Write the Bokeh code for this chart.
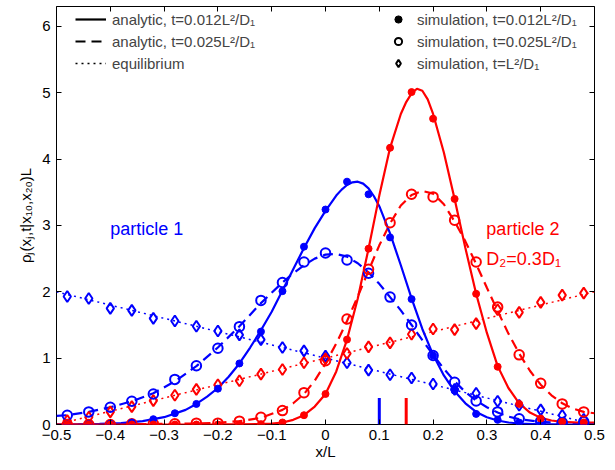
from bokeh.plotting import figure
from bokeh.models import Legend, LegendItem, LinearAxis, FixedTicker
from bokeh.core.properties import value
from bokeh.embed import file_html
from bokeh.resources import INLINE

BLUE = "#0000ff"
RED = "#ff0000"
FONT = "Liberation Sans"
NAN = float("nan")

# ---------------- data ----------------
x_ticks = [-0.5, -0.4, -0.3, -0.2, -0.1, 0.0, 0.1, 0.2, 0.3, 0.4, 0.5]
x_tick_labels = ["\u22120.5", "\u22120.4", "\u22120.3", "\u22120.2", "\u22120.1", "0",
                 "0.1", "0.2", "0.3", "0.4", "0.5"]
y_ticks = [0, 1, 2, 3, 4, 5, 6]
y_tick_labels = ["0", "1", "2", "3", "4", "5", "6"]

# analytic, particle 1, t=0.012
a1_short_x = [-0.5, -0.46, -0.42, -0.38, -0.34, -0.30, -0.26, -0.24, -0.22, -0.20, -0.18, -0.16,
              -0.14, -0.12, -0.10, -0.08, -0.06, -0.04, -0.02, 0.0, 0.02, 0.03, 0.04, 0.05, 0.06,
              0.07, 0.08, 0.09, 0.10, 0.12, 0.14, 0.16, 0.18, 0.20, 0.22, 0.24, 0.26, 0.28, 0.30,
              0.32, 0.34, 0.36, 0.40, 0.44, 0.5]
a1_short_y = [0.0, 0.004, 0.009, 0.022, 0.05, 0.11, 0.22, 0.31, 0.42, 0.55, 0.72, 0.92,
              1.16, 1.42, 1.70, 2.02, 2.34, 2.66, 2.96, 3.22, 3.45, 3.54, 3.61, 3.65, 3.66,
              3.63, 3.56, 3.44, 3.29, 2.88, 2.40, 1.90, 1.44, 1.05, 0.74, 0.50, 0.32, 0.19, 0.11,
              0.06, 0.03, 0.015, 0.004, 0.001, 0.0]
# analytic, particle 1, t=0.025
a1_long_x = [-0.5, -0.48, -0.44, -0.40, -0.36, -0.32, -0.28, -0.24, -0.20, -0.16, -0.12, -0.08,
             -0.06, -0.04, -0.02, 0.0, 0.02, 0.04, 0.06, 0.08, 0.10, 0.12, 0.14, 0.16, 0.18,
             0.20, 0.22, 0.24, 0.26, 0.28, 0.30, 0.32, 0.34, 0.36, 0.40, 0.44, 0.5]
a1_long_y = [0.13, 0.14, 0.19, 0.26, 0.35, 0.47, 0.65, 0.88, 1.16, 1.48, 1.83, 2.14,
             2.28, 2.40, 2.50, 2.56, 2.57, 2.53, 2.43, 2.29, 2.12, 1.92, 1.72, 1.50, 1.27,
             1.05, 0.84, 0.65, 0.49, 0.36, 0.26, 0.18, 0.12, 0.08, 0.04, 0.02, 0.01]
# analytic, particle 2, t=0.012
a2_short_x = [-0.5, -0.2, -0.16, -0.12, -0.10, -0.08, -0.06, -0.04, -0.02, 0.0, 0.02, 0.04,
              0.06, 0.08, 0.10, 0.12, 0.14, 0.15, 0.16, 0.17, 0.18, 0.19, 0.20, 0.22, 0.24,
              0.26, 0.28, 0.30, 0.32, 0.34, 0.36, 0.38, 0.40, 0.42, 0.44, 0.47, 0.5]
a2_short_y = [0.0, 0.001, 0.003, 0.008, 0.015, 0.03, 0.07, 0.14, 0.27, 0.46, 0.80, 1.28,
              1.90, 2.65, 3.45, 4.17, 4.68, 4.86, 4.99, 5.06, 5.03, 4.90, 4.68, 4.10, 3.40,
              2.66, 1.97, 1.38, 0.88, 0.55, 0.32, 0.18, 0.10, 0.06, 0.04, 0.03, 0.03]
# analytic, particle 2, t=0.025
a2_long_x = [-0.5, -0.28, -0.24, -0.20, -0.16, -0.12, -0.08, -0.06, -0.04, -0.02, 0.0, 0.02,
             0.04, 0.06, 0.08, 0.10, 0.12, 0.14, 0.16, 0.18, 0.20, 0.22, 0.24, 0.26, 0.28,
             0.30, 0.32, 0.34, 0.36, 0.38, 0.40, 0.42, 0.44, 0.46, 0.48, 0.5]
a2_long_y = [0.0, 0.01, 0.015, 0.025, 0.05, 0.10, 0.22, 0.32, 0.46, 0.66, 0.92, 1.22,
             1.56, 1.93, 2.32, 2.70, 3.03, 3.30, 3.46, 3.52, 3.48, 3.32, 3.06, 2.76, 2.42,
             2.06, 1.71, 1.37, 1.07, 0.81, 0.60, 0.44, 0.32, 0.24, 0.19, 0.17]
# equilibrium
eq_x = [-0.5, 0.5]
eq1_y = [2.0, 0.0]
eq2_y = [0.0, 2.0]

# simulation
sim_x = [-0.48, -0.44, -0.40, -0.36, -0.32, -0.28, -0.24, -0.20, -0.16, -0.12, -0.08, -0.04,
         0.0, 0.04, 0.08, 0.12, 0.16, 0.20, 0.24, 0.28, 0.32, 0.36, 0.40, 0.44, 0.48]
s1_short = [0.0, 0.005, 0.01, 0.03, 0.08, 0.17, 0.31, 0.54, 0.92, 1.40, 2.01, 2.68,
            3.24, 3.66, 3.47, 2.82, 1.89, 1.04, 0.51, 0.16, 0.07, 0.03, 0.01, 0.0, 0.0]
s1_long = [0.14, 0.19, 0.26, 0.35, 0.46, 0.68, 0.885, 1.15, 1.475, 1.87, 2.14, 2.45,
           2.585, 2.48, 2.28, 1.92, 1.50, 1.04, 0.635, 0.355, 0.19, 0.085, 0.048, 0.03, 0.04]
s1_eq = [1.93, 1.90, 1.75, 1.72, 1.60, 1.56, 1.48, 1.41, 1.35, 1.28, 1.16, 1.11,
         1.03, 0.93, 0.82, 0.75, 0.70, 0.61, 0.53, 0.47, 0.35, 0.29, 0.22, 0.14, 0.08]
s2_short = [0.0, 0.0, 0.0, 0.0, 0.0, 0.0, 0.0, 0.0, 0.0, 0.005, 0.03, 0.14,
            0.46, 1.28, 2.65, 4.17, 5.01, 4.61, 3.40, 1.97, 0.87, 0.31, 0.09, 0.04, 0.03]
s2_long = [0.0, 0.0, 0.0, 0.01, 0.01, 0.01, 0.02, 0.02, 0.05, 0.11, 0.21, 0.48,
           0.96, 1.59, 2.34, 3.04, 3.47, 3.43, 3.08, 2.45, 1.77, 1.05, 0.62, 0.31, 0.19]
s2_eq = [0.06, 0.11, 0.19, 0.27, 0.36, 0.44, 0.53, 0.60, 0.66, 0.76, 0.83, 0.93,
         0.99, 1.07, 1.17, 1.23, 1.36, 1.44, 1.43, 1.52, 1.73, 1.69, 1.84, 1.95, 1.98]

# initial positions x10, x20
start_x = [0.1, 0.15]
start_h = [0.4, 0.4]
start_colors = [BLUE, RED]

# ---------------- figure ----------------
p = figure(width=607, height=462, x_range=(-0.5, 0.5), y_range=(0, 6.3),
           output_backend="svg", toolbar_location=None,
           min_border_left=56, min_border_right=13, min_border_top=6, min_border_bottom=38)
p.grid.visible = False
p.outline_line_color = "black"
p.outline_line_width = 1
p.background_fill_color = "white"

LW = 2.2
DASH = "10 6"
DOT = "2 4"

p.line(eq_x, eq1_y, line_color=BLUE, line_width=1.5, line_dash=DOT)
p.line(eq_x, eq2_y, line_color=RED, line_width=1.5, line_dash=DOT)
p.line(a1_long_x, a1_long_y, line_color=BLUE, line_width=LW, line_dash=DASH)
p.line(a2_long_x, a2_long_y, line_color=RED, line_width=LW, line_dash=DASH)
p.line(a1_short_x, a1_short_y, line_color=BLUE, line_width=LW)
p.line(a2_short_x, a2_short_y, line_color=RED, line_width=LW)

for ys, col in ((s1_eq, BLUE), (s2_eq, RED)):
    p.scatter(sim_x, ys, marker="diamond", size=11, fill_color=None, line_color=col, line_width=2)
for ys, col in ((s1_long, BLUE), (s2_long, RED)):
    p.scatter(sim_x, ys, marker="circle", size=9.5, fill_color=None, line_color=col, line_width=2)
for ys, col in ((s1_short, BLUE), (s2_short, RED)):
    p.scatter(sim_x, ys, marker="circle", size=7, fill_color=col, line_color=col, line_width=1)

p.segment(x0=start_x, y0=[0, 0], x1=start_x, y1=start_h, line_color=start_colors, line_width=3)

# annotations
p.text(x=[-0.40], y=[2.95], text=["particle 1"], text_color=BLUE, text_font=value(FONT),
       text_font_size="18px", text_baseline="middle")
p.text(x=[0.299], y=[2.95], text=["particle 2"], text_color=RED, text_font=value(FONT),
       text_font_size="18px", text_baseline="middle")
p.text(x=[0.299], y=[2.50], text=["D\u2082=0.3D\u2081"], text_color=RED, text_font=value(FONT),
       text_font_size="18px", text_baseline="middle")

# axes
for ax in (p.xaxis[0], p.yaxis[0]):
    ax.major_tick_in = 5
    ax.major_tick_out = 0
    ax.minor_tick_in = 0
    ax.minor_tick_out = 0
    ax.axis_line_color = None
    ax.major_label_text_font = FONT
    ax.major_label_text_font_size = "15px"
    ax.major_label_text_color = "black"
    ax.axis_label_text_font = FONT
    ax.axis_label_text_font_size = "15px"
    ax.axis_label_text_font_style = "normal"
    ax.axis_label_text_color = "black"

p.xaxis[0].ticker = FixedTicker(ticks=x_ticks)
p.xaxis[0].major_label_overrides = dict(zip(x_ticks, x_tick_labels))
p.xaxis[0].axis_label = "x/L"
p.xaxis[0].major_label_standoff = 5
p.xaxis[0].axis_label_standoff = 0

p.yaxis[0].ticker = FixedTicker(ticks=y_ticks)
p.yaxis[0].major_label_overrides = dict(zip(y_ticks, y_tick_labels))
p.yaxis[0].axis_label = "\u03c1\u2c7c(x\u2c7c,t|x\u2081\u2080,x\u2082\u2080)L"
p.yaxis[0].major_label_standoff = 6
p.yaxis[0].axis_label_standoff = 5

right = LinearAxis(ticker=FixedTicker(ticks=y_ticks), major_tick_in=5, major_tick_out=0,
                   minor_tick_in=0, minor_tick_out=0, axis_line_color=None,
                   major_label_text_font_size="1px", major_label_text_color=None,
                   major_label_standoff=0)
top = LinearAxis(ticker=FixedTicker(ticks=x_ticks), major_tick_in=5, major_tick_out=0,
                 minor_tick_in=0, minor_tick_out=0, axis_line_color=None,
                 major_label_text_font_size="1px", major_label_text_color=None,
                 major_label_standoff=0)
p.add_layout(right, "right")
p.add_layout(top, "above")

# legends with black sample glyphs (renderers hold a single NaN so they draw nothing in the plot)
l_solid = p.line([NAN], [NAN], line_color="black", line_width=LW)
l_dash = p.line([NAN], [NAN], line_color="black", line_width=LW, line_dash=DASH)
l_dot = p.line([NAN], [NAN], line_color="black", line_width=1.5, line_dash=DOT)
m_dot = p.scatter([NAN], [NAN], marker="circle", size=7, fill_color="black", line_color="black")
m_circ = p.scatter([NAN], [NAN], marker="circle", size=9.5, fill_color=None, line_color="black",
                   line_width=2)
m_diam = p.scatter([NAN], [NAN], marker="diamond", size=11, fill_color=None, line_color="black",
                   line_width=2)

leg_common = dict(padding=0, spacing=2, glyph_height=20, label_height=20,
                  label_text_font=FONT, label_text_font_size="15px",
                  border_line_color=None, background_fill_alpha=0)
left_leg = Legend(items=[LegendItem(label="analytic, t=0.012L\u00b2/D\u2081", renderers=[l_solid]),
                         LegendItem(label="analytic, t=0.025L\u00b2/D\u2081", renderers=[l_dash]),
                         LegendItem(label="equilibrium", renderers=[l_dot])],
                  location=(19, 351), glyph_width=31, label_standoff=6, **leg_common)
right_leg = Legend(items=[LegendItem(label="simulation, t=0.012L\u00b2/D\u2081", renderers=[m_dot]),
                          LegendItem(label="simulation, t=0.025L\u00b2/D\u2081", renderers=[m_circ]),
                          LegendItem(label="simulation, t=L\u00b2/D\u2081", renderers=[m_diam])],
                   location=(333, 351), glyph_width=18, label_standoff=10, **leg_common)
p.add_layout(left_leg, "center")
p.add_layout(right_leg, "center")

open("out.html", "w").write(file_html(p, INLINE))
